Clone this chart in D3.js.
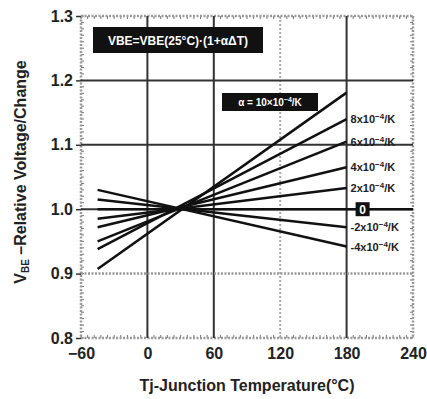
<!DOCTYPE html>
<html>
<head>
<meta charset="utf-8">
<script src="https://cdn.jsdelivr.net/npm/d3@7"></script>
<style>
  body { margin: 0; background: #fff; }
  text { font-family: "Liberation Sans", Arial, sans-serif; font-weight: bold; fill: #222; }
</style>
</head>
<body>
<svg id="chart"></svg>
<script>
const temps = [-45, 180];
const xTicks = [-60, 0, 60, 120, 180, 240];
const yTicks = [0.8, 0.9, 1.0, 1.1, 1.2, 1.3];

// relative value at T = -45 and T = 180
const seriesNames = ['a', '8', '6', '4', '2', '0', '-2', '-4'];
const seriesStart = [0.907, 0.938, 0.950, 0.972, 0.985, 1.000, 1.015, 1.030];
const seriesEnd   = [1.181, 1.140, 1.105, 1.065, 1.033, 1.000, 0.972, 0.942];
const seriesLabels = ['', '8x10', '6x10', '4x10', '2x10', '0', '-2x10', '-4x10'];

const width = 427;
const height = 399;
const pLeft = 81, pRight = 413, pTop = 16, pBottom = 338;

const svg = d3.select('#chart')
    .attr('width', width)
    .attr('height', height);

const x = d3.scaleLinear().domain([-60, 240]).range([pLeft, pRight]);
const y = d3.scaleLinear().domain([0.8, 1.3]).range([pBottom, pTop]);

// minor ticks along the frame
const minorX = d3.range(-60, 241, 6);
const minorY = d3.range(0.8, 1.3001, 0.01);

svg.append('g')
  .selectAll('line')
  .data(minorX)
  .enter().append('line')
    .attr('x1', d => x(d)).attr('x2', d => x(d))
    .attr('y1', pBottom - 3).attr('y2', pBottom)
    .attr('stroke', '#777').attr('stroke-width', 1);

svg.append('g')
  .selectAll('line')
  .data(minorX)
  .enter().append('line')
    .attr('x1', d => x(d)).attr('x2', d => x(d))
    .attr('y1', pTop).attr('y2', pTop + 3)
    .attr('stroke', '#777').attr('stroke-width', 1);

svg.append('g')
  .selectAll('line')
  .data(minorY)
  .enter().append('line')
    .attr('x1', pLeft).attr('x2', pLeft + 3)
    .attr('y1', d => y(d)).attr('y2', d => y(d))
    .attr('stroke', '#777').attr('stroke-width', 1);

svg.append('g')
  .selectAll('line')
  .data(minorY)
  .enter().append('line')
    .attr('x1', pRight - 3).attr('x2', pRight)
    .attr('y1', d => y(d)).attr('y2', d => y(d))
    .attr('stroke', '#777').attr('stroke-width', 1);

// frame (dotted grey)
const frameStyle = g => g.attr('stroke', '#999').attr('stroke-width', 2.5).attr('stroke-dasharray', '2,1.5');
svg.append('line').attr('x1', pLeft).attr('x2', pRight).attr('y1', pTop).attr('y2', pTop).call(frameStyle);
svg.append('line').attr('x1', pLeft).attr('x2', pRight).attr('y1', pBottom).attr('y2', pBottom).call(frameStyle);
svg.append('line').attr('x1', pLeft).attr('x2', pLeft).attr('y1', pTop).attr('y2', pBottom).call(frameStyle);
svg.append('line').attr('x1', pRight).attr('x2', pRight).attr('y1', pTop).attr('y2', pBottom).call(frameStyle);

// grid
const solidX = [0, 60, 180];
const dottedX = [120];
const solidY = [1.0, 1.1, 1.2];
const dottedY = [0.9];

svg.append('g').selectAll('line').data(solidX).enter().append('line')
    .attr('x1', d => x(d)).attr('x2', d => x(d))
    .attr('y1', pTop).attr('y2', pBottom)
    .attr('stroke', '#333').attr('stroke-width', 2);
svg.append('g').selectAll('line').data(dottedX).enter().append('line')
    .attr('x1', d => x(d)).attr('x2', d => x(d))
    .attr('y1', pTop).attr('y2', pBottom)
    .attr('stroke', '#aaa').attr('stroke-width', 2).attr('stroke-dasharray', '2,2');
svg.append('g').selectAll('line').data(solidY).enter().append('line')
    .attr('x1', pLeft).attr('x2', pRight)
    .attr('y1', d => y(d)).attr('y2', d => y(d))
    .attr('stroke', '#333').attr('stroke-width', 2);
svg.append('g').selectAll('line').data(dottedY).enter().append('line')
    .attr('x1', pLeft).attr('x2', pRight)
    .attr('y1', d => y(d)).attr('y2', d => y(d))
    .attr('stroke', '#999').attr('stroke-width', 2.5).attr('stroke-dasharray', '2,1.5');

// axes
const xAxis = d3.axisBottom(x).tickValues(xTicks).tickSize(0).tickPadding(10)
    .tickFormat(d => d < 0 ? '\u2212' + Math.abs(d) : d);
const yAxis = d3.axisLeft(y).tickValues(yTicks).tickSize(5).tickPadding(3)
    .tickFormat(d3.format('.1f'));

svg.append('g')
    .attr('transform', `translate(0, ${pBottom})`)
    .call(xAxis)
    .call(g => g.select('.domain').remove())
    .selectAll('text')
      .attr('font-size', 16)
      .attr('font-family', '"Liberation Sans", Arial, sans-serif')
      .attr('fill', '#222');

svg.append('g')
    .attr('transform', `translate(${pLeft}, 0)`)
    .call(yAxis)
    .call(g => g.select('.domain').remove())
    .call(g => g.selectAll('line').attr('stroke', '#333').attr('stroke-width', 1.5))
    .selectAll('text')
      .attr('font-size', 16)
      .attr('font-family', '"Liberation Sans", Arial, sans-serif')
      .attr('fill', '#222');

// series lines
const line = d3.line().x(d => x(d[0])).y(d => y(d[1]));
const series = seriesNames.map((n, i) => ({
  name: n,
  label: seriesLabels[i],
  pts: [[temps[0], seriesStart[i]], [temps[1], seriesEnd[i]]]
}));

svg.append('g').selectAll('path').data(series).enter().append('path')
    .attr('d', d => line(d.pts))
    .attr('fill', 'none')
    .attr('stroke', '#111')
    .attr('stroke-width', 2.5);

// zero line continues to the right edge
svg.append('line')
    .attr('x1', x(180)).attr('x2', pRight)
    .attr('y1', y(1.0)).attr('y2', y(1.0))
    .attr('stroke', '#111').attr('stroke-width', 2.5);

// series labels
const lab = svg.append('g');
series.forEach(s => {
  if (!s.label) return;
  const yy = y(s.pts[1][1]);
  if (s.name === '0') {
    lab.append('rect')
        .attr('x', x(180) + 9).attr('y', yy - 7)
        .attr('width', 14).attr('height', 14)
        .attr('fill', '#111');
    lab.append('text')
        .attr('x', x(180) + 16).attr('y', yy + 4.5)
        .attr('text-anchor', 'middle')
        .attr('font-size', 12)
        .style('fill', '#fff')
        .text('0');
    return;
  }
  const t = lab.append('text')
      .attr('x', x(180) + 4).attr('y', yy + 4)
      .attr('font-size', 11);
  t.append('tspan').text(s.label);
  t.append('tspan').attr('dy', -4).attr('font-size', 8).text('\u22124');
  t.append('tspan').attr('dy', 4).text('/K');
});

// formula boxes
svg.append('rect')
    .attr('x', 93).attr('y', 27).attr('width', 170).attr('height', 26)
    .attr('fill', '#111');
svg.append('text')
    .attr('x', 178).attr('y', 45)
    .attr('text-anchor', 'middle')
    .attr('font-size', 12)
    .style('fill', '#fff')
    .text('VBE=VBE(25\u00b0C)\u00b7(1+\u03b1\u0394T)');

svg.append('rect')
    .attr('x', 222).attr('y', 93).attr('width', 96).attr('height', 18)
    .attr('fill', '#111');
const at = svg.append('text')
    .attr('x', 270).attr('y', 106)
    .attr('text-anchor', 'middle')
    .attr('font-size', 10)
    .style('fill', '#fff');
at.append('tspan').text('\u03b1 = 10\u00d710');
at.append('tspan').attr('dy', -4).attr('font-size', 7).text('\u22124');
at.append('tspan').attr('dy', 4).text('/K');

// axis titles
svg.append('text')
    .attr('x', (pLeft + pRight) / 2)
    .attr('y', 391)
    .attr('text-anchor', 'middle')
    .attr('font-size', 16)
    .text('Tj-Junction Temperature(\u00b0C)');

const yt = svg.append('text')
    .attr('transform', 'rotate(-90)')
    .attr('x', -172)
    .attr('y', 26)
    .attr('text-anchor', 'middle')
    .attr('font-size', 16);
yt.append('tspan').text('V');
yt.append('tspan').attr('font-size', 10).attr('dy', 3).text('BE');
yt.append('tspan').attr('dy', -3).text(' \u2013Relative Voltage/Change');
</script>
</body>
</html>
